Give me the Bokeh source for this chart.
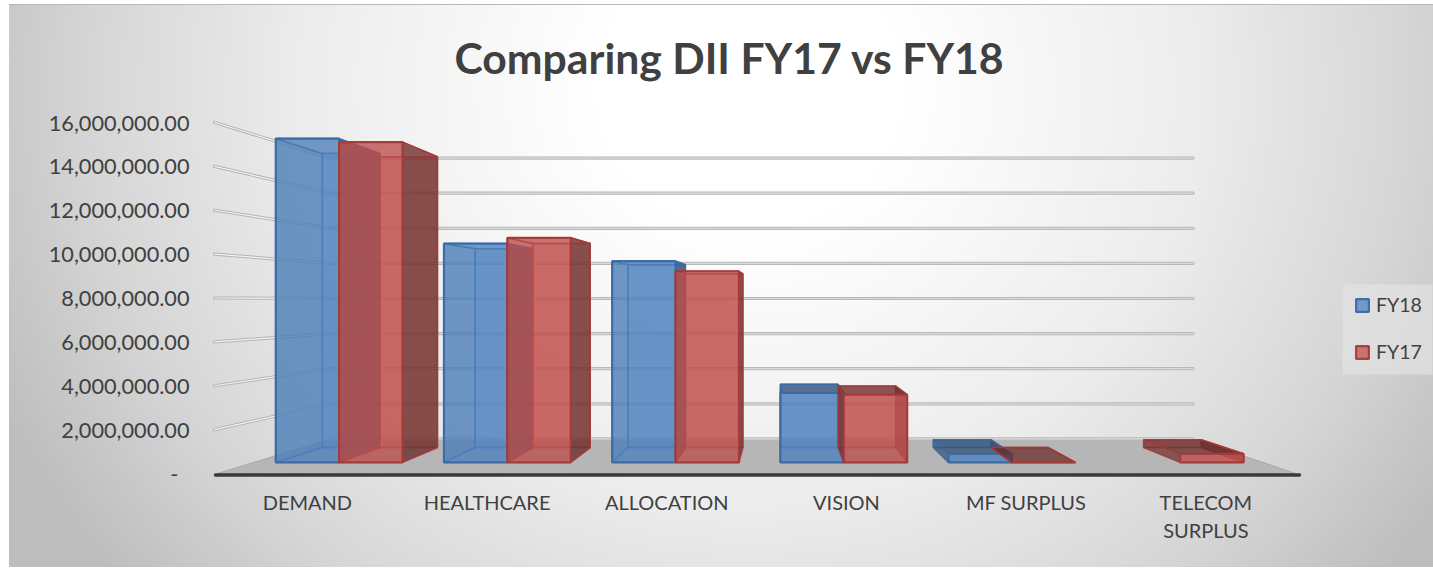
from bokeh.plotting import figure
from bokeh.models import Range1d, LinearAxis, FixedTicker, NumeralTickFormatter, Legend, LegendItem
from bokeh.embed import file_html
from bokeh.resources import INLINE

categories = ["DEMAND", "HEALTHCARE", "ALLOCATION", "VISION", "MF SURPLUS", "TELECOM\nSURPLUS"]
fy18 = [15770000, 10660000, 9800000, 3390000, 420000, None]
fy17 = [15600000, 10940000, 9310000, 3300000, 0, 420000]
y_ticks = [0, 2000000, 4000000, 6000000, 8000000, 10000000, 12000000, 14000000, 16000000]

BLUE, BLUE_DARK, BLUE_EDGE = "#4f81bd", "#2f4d71", "#3a6aa6"
RED, RED_DARK, RED_EDGE = "#c0504d", "#6a2c2a", "#a63a38"

# layout in page pixels
OX, OY = 9, 4
W, H = 1424, 563
F_L, F_R, F_T, F_B = 212, OX + W, 96, 479      # frame edges on the window
ZERO_PX = 473                                  # window row of value 0 at the front plane
CAT_PX = 179.7
X0_PX = 217
Y_PX = 351 / 16000000                          # pixels per unit of value at the front plane


def to_x(pixel):
    return (pixel - X0_PX) / CAT_PX


def to_y(pixel):
    return (ZERO_PX - pixel) / Y_PX


# perspective: scale at each depth, towards a vanishing point
VX = to_x(782)
VY = to_y(300)
S_WALL, S_BAR_FRONT, S_BAR_BACK = 0.80, 0.936, 0.85
BAR_W = 0.377
BAR_SHIFT = 1.5 / CAT_PX


def px(x, s):
    return VX + (x - VX) * s


def py(v, s):
    return VY + (v - VY) * s


p = figure(width=W, height=H, output_backend="svg", toolbar_location=None,
           x_range=Range1d(to_x(F_L), to_x(F_R)), y_range=Range1d(to_y(F_B), to_y(F_T)),
           x_axis_location=None, y_axis_location=None,
           min_border_left=F_L - OX, min_border_right=0,
           min_border_top=F_T - OY - 1, min_border_bottom=H + OY + 1 - F_B,
           background_fill_color=None, border_fill_color=None, outline_line_color=None,
           title="Comparing DII FY17 vs FY18")
p.margin = (OY, 0, 0, OX)
p.grid.visible = False
p.styles = {"background": "radial-gradient(ellipse 820px 760px at 52% 15%, #ffffff 18%, #ececec 55%, #d6d6d6 80%, #bebebe 100%)",
            "border-top": "1px solid #b8b8b8"}

# floor
p.patch([0, len(categories), px(len(categories), S_WALL), px(0, S_WALL)],
        [0, 0, py(0, S_WALL), py(0, S_WALL)],
        fill_color="#b6b6b6", line_color="#a8a8a8", line_width=1)

# side wall and back wall grid
wall_start = to_x(214)
for t in y_ticks:
    if t > 0:
        p.line([wall_start, px(0, S_WALL)], [t, py(t, S_WALL)], line_color="#b4b4b4", line_width=3.2, line_cap="round")
        p.line([wall_start, px(0, S_WALL)], [t, py(t, S_WALL)], line_color="#f2f2f2", line_width=1.2, line_cap="round")
    p.line([px(0, S_WALL), px(len(categories), S_WALL)], [py(t, S_WALL)] * 2, line_color="#b8b8b8", line_width=3.2, line_cap="round")
    p.line([px(0, S_WALL), px(len(categories), S_WALL)], [py(t, S_WALL)] * 2, line_color="#dadada", line_width=1.2, line_cap="round")


def boxes(values, offset):
    faces = {k: ([], []) for k in ["back", "bottom", "left", "right", "top", "front"]}
    top_alpha, left_alpha = [], []
    for i, v in enumerate(values):
        if v is None:
            continue
        x0 = i + 0.5 + offset + BAR_SHIFT
        x1 = x0 + BAR_W
        f, b = S_BAR_FRONT, S_BAR_BACK
        top_alpha.append(0.15 if v > VY else 0.7)   # a top above eye level is seen from below
        left_alpha.append(0.22 if v > VY else 0.65)
        corners = {
            "back": [(x0, 0, b), (x1, 0, b), (x1, v, b), (x0, v, b)],
            "bottom": [(x0, 0, f), (x1, 0, f), (x1, 0, b), (x0, 0, b)],
            "left": [(x0, 0, f), (x0, v, f), (x0, v, b), (x0, 0, b)],
            "right": [(x1, 0, f), (x1, v, f), (x1, v, b), (x1, 0, b)],
            "top": [(x0, v, f), (x1, v, f), (x1, v, b), (x0, v, b)],
            "front": [(x0, 0, f), (x1, 0, f), (x1, v, f), (x0, v, f)],
        }
        for k, pts in corners.items():
            faces[k][0].append([px(a, s) for a, _, s in pts])
            faces[k][1].append([py(c, s) for _, c, s in pts])
    return faces, top_alpha, left_alpha


def draw(values, offset, color, dark, edge):
    faces, top_alpha, left_alpha = boxes(values, offset)
    p.patches(*faces["back"], fill_color=color, fill_alpha=0.4, line_color=edge, line_alpha=0.7, line_width=1.5)
    p.patches(*faces["bottom"], fill_color=dark, fill_alpha=0.12, line_color=edge, line_alpha=0.4, line_width=1.5)
    p.patches(*faces["left"], fill_color=dark, fill_alpha=left_alpha, line_color=edge, line_alpha=0.7, line_width=1.5)
    p.patches(*faces["right"], fill_color=dark, fill_alpha=0.75, line_color=edge, line_alpha=0.8, line_width=1.5)
    p.patches(*faces["top"], fill_color=dark, fill_alpha=top_alpha, line_color=edge, line_alpha=0.9, line_width=1.5)
    return p.patches(*faces["front"], fill_color=color, fill_alpha=0.75, line_color=edge, line_alpha=0.95, line_width=2.2)


r18 = draw(fy18, -BAR_W, BLUE, BLUE_DARK, BLUE_EDGE)
r17 = draw(fy17, 0, RED, RED_DARK, RED_EDGE)

# axes
yax = LinearAxis(ticker=FixedTicker(ticks=y_ticks), formatter=NumeralTickFormatter(format="0,0.00"),
                 major_label_overrides={0: "-\u00a0\u00a0"},
                 axis_line_color=None, major_tick_line_color=None, minor_tick_line_color=None,
                 major_label_standoff=17, major_label_text_font="Lato",
                 major_label_text_font_size="21.7px", major_label_text_color="#404040")
p.add_layout(yax, "left")

xax = LinearAxis(ticker=FixedTicker(ticks=[i + 0.5 for i in range(len(categories))]),
                 major_label_overrides={i + 0.5: c for i, c in enumerate(categories)},
                 axis_line_color=None,
                 major_tick_line_color=None, minor_tick_line_color=None,
                 major_label_standoff=4, major_label_text_font="Lato",
                 major_label_text_font_size="20px", major_label_text_color="#404040")
p.add_layout(xax, "below")

# thick front edge of the floor
p.line([to_x(215), to_x(1299)], [to_y(474.5)] * 2, line_color="#3a3a3a", line_width=3.5, line_cap="round")

# legend panel
p.quad(left=to_x(1342), right=to_x(1432), top=to_y(284), bottom=to_y(374),
       fill_color="#e2e2e2", fill_alpha=0.7, line_color=None)

p.title.text_font = "Lato"
p.title.text_font_style = "bold"
p.title.text_font_size = "42.7px"
p.title.text_color = "#404040"
p.title.align = "left"
p.title.offset = 454 - F_L
p.title.standoff = 27

legend = Legend(items=[LegendItem(label="FY18", renderers=[r18]), LegendItem(label="FY17", renderers=[r17])],
                location=(1354 - F_L, F_B - 363), orientation="vertical", margin=0,
                glyph_width=16, glyph_height=16, label_height=20, spacing=24,
                label_text_font="Lato", label_text_font_size="19.5px", label_text_color="#404040",
                background_fill_alpha=0, border_line_color=None, label_standoff=6)
p.add_layout(legend)

open("out.html", "w").write(file_html(p, INLINE))
